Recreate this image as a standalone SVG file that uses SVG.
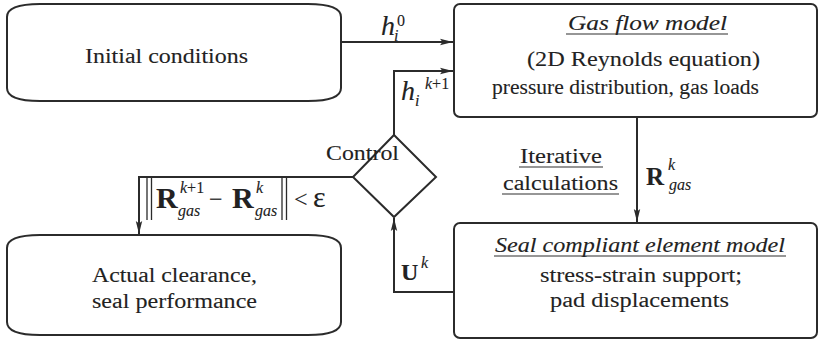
<svg xmlns="http://www.w3.org/2000/svg" width="819" height="342" viewBox="0 0 819 342">
  <style>
    .box { fill: #ffffff; stroke: #2b2b2b; stroke-width: 2; }
    .wire { fill: none; stroke: #2b2b2b; stroke-width: 2; }
    .txt { font-family: "Liberation Serif", "Times New Roman", serif; fill: #222222; stroke: #222222; stroke-width: 0.1; }
    .lbl { font-size: 20.5px; }
    .it { font-style: italic; }
    .bf { font-weight: bold; }
    .sm { font-size: 16px; }
    .ul { fill: none; stroke: #2e2e2e; stroke-width: 1.2; }
  </style>
  <defs>
    <marker id="arrow" markerUnits="userSpaceOnUse" markerWidth="14" markerHeight="10" refX="13" refY="5" orient="auto">
      <path d="M0,1.8 L13,5 L0,8.2 L2.5,5 Z" fill="#2b2b2b"/>
    </marker>
  </defs>

  <!-- white page -->
  <rect width="819" height="342" fill="#ffffff"/>

  <!-- connectors and their labels -->
  <g id="connectors">
    <path class="wire" d="M341,42 H453" marker-end="url(#arrow)"/>
    <path class="wire" d="M394,135 V71 H453" marker-end="url(#arrow)"/>
    <path class="wire" d="M637,117 V222" marker-end="url(#arrow)"/>
    <path class="wire" d="M454,292 H394 V218" marker-end="url(#arrow)"/>
    <path class="wire" d="M353,177 H139 V234" marker-end="url(#arrow)"/>

    <!-- h_i^0 -->
    <text class="txt it" x="381" y="35" style="font-size:28px">h</text>
    <text class="txt it sm" x="394" y="41">i</text>
    <text class="txt sm" x="397" y="26">0</text>

    <!-- h_i^(k+1) -->
    <text class="txt it" x="401" y="100" style="font-size:28px">h</text>
    <text class="txt it sm" x="415" y="106">i</text>
    <text class="txt sm" x="425" y="89"><tspan font-style="italic">k</tspan>+1</text>

    <!-- R_gas^k -->
    <text class="txt bf" x="646" y="185" style="font-size:25px">R</text>
    <text class="txt it sm" x="668" y="170">k</text>
    <text class="txt it sm" x="669" y="190">gas</text>

    <!-- U^k -->
    <text class="txt bf" x="401" y="280" style="font-size:24px">U</text>
    <text class="txt it sm" x="421" y="268">k</text>

    <!-- convergence test on the exit branch -->
    <g id="norm">
      <path class="wire" d="M147,177 V220 M151.5,177 V220 M282,177 V220 M286.5,177 V220" style="stroke-width:1.3"/>
      <text class="txt bf" x="156" y="208" style="font-size:30px">R</text>
      <text class="txt sm" x="180" y="193"><tspan font-style="italic">k</tspan>+1</text>
      <text class="txt it sm" x="178" y="216">gas</text>
      <text class="txt" x="209" y="207" style="font-size:24px">−</text>
      <text class="txt bf" x="232" y="208" style="font-size:30px">R</text>
      <text class="txt it sm" x="256" y="193">k</text>
      <text class="txt it sm" x="255" y="216">gas</text>
      <text class="txt" x="294" y="207" style="font-size:24px">&lt;</text>
      <text class="txt" x="313" y="207" style="font-size:30px">ε</text>
    </g>
  </g>

  <g id="initial-conditions">
    <path class="box" d="M40,4 H308 Q341,4 341,17 V88 Q341,101 308,101 H40 Q7,101 7,88 V17 Q7,4 40,4 Z"/>
    <text class="txt lbl" x="166.5" y="63" text-anchor="middle" textLength="163" lengthAdjust="spacingAndGlyphs">Initial conditions</text>
  </g>

  <g id="gas-flow-model">
    <rect class="box" x="454" y="4" width="363" height="113" rx="6"/>
    <text class="txt lbl it" x="647.5" y="30" text-anchor="middle" textLength="159" lengthAdjust="spacingAndGlyphs">Gas flow model</text>
    <path class="ul" d="M566,34 H728"/>
    <text class="txt lbl" x="643.5" y="66" text-anchor="middle" textLength="233" lengthAdjust="spacingAndGlyphs">(2D Reynolds equation)</text>
    <text class="txt lbl" x="625.5" y="94" text-anchor="middle" textLength="267" lengthAdjust="spacingAndGlyphs">pressure distribution, gas loads</text>
  </g>

  <g id="iterative-calculations">
    <text class="txt lbl" x="561" y="163" text-anchor="middle" textLength="82" lengthAdjust="spacingAndGlyphs">Iterative</text>
    <path class="ul" d="M519,167 H603"/>
    <text class="txt lbl" x="560.5" y="190" text-anchor="middle" textLength="115" lengthAdjust="spacingAndGlyphs">calculations</text>
    <path class="ul" d="M502,194 H619"/>
  </g>

  <g id="control">
    <path class="box" d="M394,135 L436,177 L394,217 L353,177 Z"/>
    <text class="txt lbl" x="362.5" y="160" text-anchor="middle" textLength="73" lengthAdjust="spacingAndGlyphs">Control</text>
  </g>

  <g id="seal-compliant-element-model">
    <rect class="box" x="454" y="223" width="363" height="115" rx="6"/>
    <text class="txt lbl it" x="640" y="252" text-anchor="middle" textLength="290" lengthAdjust="spacingAndGlyphs">Seal compliant element model</text>
    <path class="ul" d="M494,256 H786"/>
    <text class="txt lbl" x="641" y="282" text-anchor="middle" textLength="202" lengthAdjust="spacingAndGlyphs">stress-strain support;</text>
    <text class="txt lbl" x="639.5" y="307" text-anchor="middle" textLength="179" lengthAdjust="spacingAndGlyphs">pad displacements</text>
  </g>

  <g id="actual-clearance">
    <path class="box" d="M40,235 H308 Q341,235 341,248 V322 Q341,335 308,335 H40 Q7,335 7,322 V248 Q7,235 40,235 Z"/>
    <text class="txt lbl" x="174.5" y="282" text-anchor="middle" textLength="165" lengthAdjust="spacingAndGlyphs">Actual clearance,</text>
    <text class="txt lbl" x="174.5" y="308" text-anchor="middle" textLength="165" lengthAdjust="spacingAndGlyphs">seal performance</text>
  </g>
</svg>
